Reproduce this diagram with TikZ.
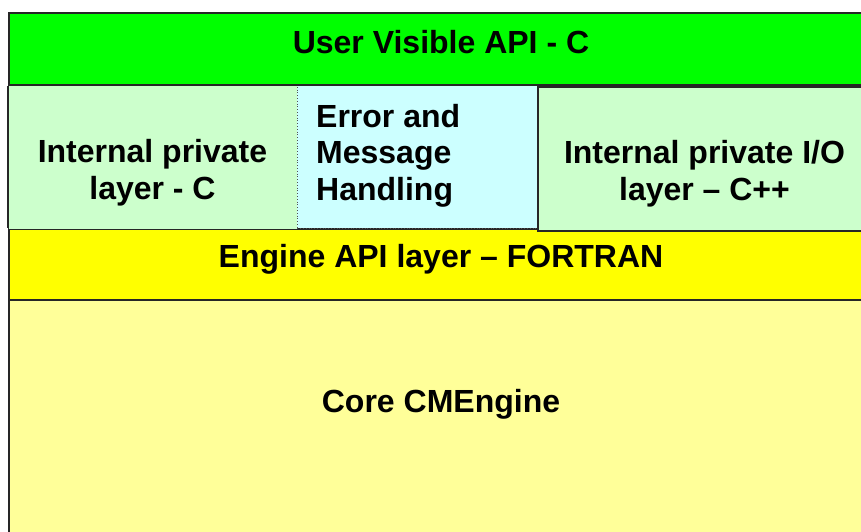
\documentclass[tikz,border=0pt]{standalone}
\usepackage{fontspec}
\setmainfont{Liberation Sans}
\usepackage{tikz}
\usetikzlibrary{positioning}
\definecolor{apigreen}{HTML}{00FF00}
\definecolor{privgreen}{HTML}{CCFFCC}
\definecolor{errcyan}{HTML}{CCFFFF}
\definecolor{engyellow}{HTML}{FFFF00}
\definecolor{coreyellow}{HTML}{FFFF99}
\definecolor{edge}{HTML}{262626}

\begin{document}
\begin{tikzpicture}[x=1pt, y=-1pt,
    box/.style={draw=edge, line width=2pt, inner sep=0pt, anchor=north west},
    txt/.style={inner sep=0pt, font=\fontsize{32}{36.5}\selectfont\bfseries, align=center},
    frame/.style={draw=edge, line width=2pt}
]
\useasboundingbox (0,0) rectangle (861,531);
\clip (0,0) rectangle (861,531);

% Layers, bottom to top
\node[box, fill=coreyellow, minimum width=866pt, minimum height=260pt] (core) at (8,299) {};
\node[box, fill=engyellow, minimum width=866pt, minimum height=71pt] (engine) at (8,228) {};
\node[box, draw=none, fill=privgreen, minimum width=289pt, minimum height=143pt] (privc) at (8,85) {};
\node[box, draw=edge!80, line width=0.8pt, dotted, fill=errcyan, minimum width=240pt, minimum height=143pt] (err) at (297,85) {};
\node[box, fill=privgreen, minimum width=335pt, minimum height=144pt] (privio) at (537,86) {};
\node[box, fill=apigreen, minimum width=866pt, minimum height=72pt] (user) at (8,12) {};

% Left edge of the private C layer
\draw[frame] (user.south west) -- (engine.north west);

% Labels
\node[txt, anchor=base] (usertxt) at (441,53.3) {User Visible API - C};
\node[txt] (privctxt) at (152.5,172.9) {Internal private\\layer - C};
\node[txt, anchor=west, align=left] (errtxt) at (316,155.5) {Error and\\Message\\Handling};
\node[txt] (priviotxt) at (704.5,173.6) {Internal private I/O\\layer – C++};
\node[txt, anchor=base] (enginetxt) at (441,267.3) {Engine API layer – FORTRAN};
\node[txt, anchor=base] (coretxt) at (441,412.3) {Core CMEngine};
\end{tikzpicture}
\end{document}
